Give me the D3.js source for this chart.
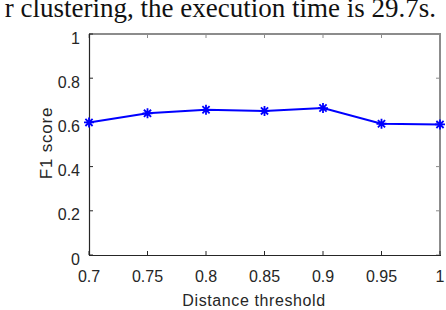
<!DOCTYPE html>
<html>
<head>
<meta charset="utf-8">
<script src="https://cdn.jsdelivr.net/npm/d3@7"></script>
<style>
  body { margin: 0; background: #fff; }
  svg { display: block; }
</style>
</head>
<body>
<svg id="canvas" width="446" height="310"></svg>
<script>
// data
const thresholds = [0.7, 0.75, 0.8, 0.85, 0.9, 0.95, 1];
const f1Scores = [0.600, 0.641, 0.657, 0.652, 0.665, 0.594, 0.591];
const xTicks = [0.7, 0.75, 0.8, 0.85, 0.9, 0.95, 1];
const yTicks = [0, 0.2, 0.4, 0.6, 0.8, 1];

const svg = d3.select("#canvas");
const plotLeft = 89, plotRight = 440, plotTop = 34, plotBottom = 255;

const x = d3.scaleLinear().domain([0.7, 1]).range([plotLeft, plotRight]);
const y = d3.scaleLinear().domain([0, 1]).range([plotBottom, plotTop]);

// caption text cut off from the page above
svg.append("text")
    .attr("x", 436)
    .attr("y", 17)
    .attr("text-anchor", "end")
    .attr("font-family", "Liberation Serif, Times New Roman, serif")
    .attr("font-size", 27)
    .attr("fill", "#111")
    .text("r clustering, the execution time is 29.7s.");

// box: top and right edges in gray
svg.append("line").attr("x1", plotLeft).attr("x2", plotRight + 1).attr("y1", plotTop).attr("y2", plotTop)
    .attr("stroke", "#8c8c8c").attr("stroke-width", 2);
svg.append("line").attr("x1", plotRight).attr("x2", plotRight).attr("y1", plotTop).attr("y2", plotBottom)
    .attr("stroke", "#8c8c8c").attr("stroke-width", 2);

const tickLen = 4;
const axisColor = "#262626";

// inward ticks on all four sides
const g = svg.append("g").attr("stroke-width", 1);
xTicks.forEach(t => {
    g.append("line").attr("x1", x(t)).attr("x2", x(t)).attr("y1", plotBottom).attr("y2", plotBottom - tickLen).attr("stroke", axisColor);
    g.append("line").attr("x1", x(t)).attr("x2", x(t)).attr("y1", plotTop).attr("y2", plotTop + tickLen).attr("stroke", "#8c8c8c");
});
yTicks.forEach(t => {
    g.append("line").attr("x1", plotLeft).attr("x2", plotLeft + tickLen).attr("y1", y(t)).attr("y2", y(t)).attr("stroke", axisColor);
    g.append("line").attr("x1", plotRight).attr("x2", plotRight - tickLen).attr("y1", y(t)).attr("y2", y(t)).attr("stroke", "#8c8c8c");
});

// left and bottom axis lines
svg.append("line").attr("x1", plotLeft + 0.5).attr("x2", plotLeft + 0.5).attr("y1", plotTop).attr("y2", plotBottom + 0.5)
    .attr("stroke", axisColor).attr("stroke-width", 1.2);
svg.append("line").attr("x1", plotLeft).attr("x2", plotRight + 1).attr("y1", plotBottom + 0.5).attr("y2", plotBottom + 0.5)
    .attr("stroke", axisColor).attr("stroke-width", 1.2);

const font = "Liberation Sans, Arial, Helvetica, sans-serif";

// tick labels
svg.selectAll(".xlab")
    .data(xTicks)
    .enter()
    .append("text")
    .attr("x", d => x(d))
    .attr("y", 282)
    .attr("text-anchor", "middle")
    .attr("font-family", font)
    .attr("font-size", 16)
    .attr("fill", axisColor)
    .text(d => d);

svg.selectAll(".ylab")
    .data(yTicks)
    .enter()
    .append("text")
    .attr("x", 80)
    .attr("y", d => y(d) + 9.5)
    .attr("text-anchor", "end")
    .attr("font-family", font)
    .attr("font-size", 16)
    .attr("fill", axisColor)
    .text(d => d);

// axis titles
svg.append("text")
    .attr("x", 254)
    .attr("y", 306)
    .attr("text-anchor", "middle")
    .attr("font-family", font)
    .attr("font-size", 16)
    .attr("letter-spacing", 0.6)
    .attr("fill", axisColor)
    .text("Distance threshold");

svg.append("text")
    .attr("transform", "translate(52,143) rotate(-90)")
    .attr("text-anchor", "middle")
    .attr("font-family", font)
    .attr("font-size", 17)
    .attr("letter-spacing", 0.8)
    .attr("fill", axisColor)
    .text("F1 score");

// the line
const pts = thresholds.map((t, i) => [t, f1Scores[i]]);
svg.append("path")
    .datum(pts)
    .attr("fill", "none")
    .attr("stroke", "#0000ff")
    .attr("stroke-width", 2)
    .attr("d", d3.line().x(d => x(d[0])).y(d => y(d[1])));

// asterisk markers
const r = 5, rd = 3.6;
svg.selectAll(".mark")
    .data(pts)
    .enter()
    .append("path")
    .attr("fill", "none")
    .attr("stroke", "#0000ff")
    .attr("stroke-width", 1.8)
    .attr("d", d => {
        const cx = x(d[0]), cy = y(d[1]);
        return `M${cx - r},${cy}L${cx + r},${cy}M${cx},${cy - r}L${cx},${cy + r}` +
            `M${cx - rd},${cy - rd}L${cx + rd},${cy + rd}M${cx - rd},${cy + rd}L${cx + rd},${cy - rd}`;
    });
</script>
</body>
</html>
